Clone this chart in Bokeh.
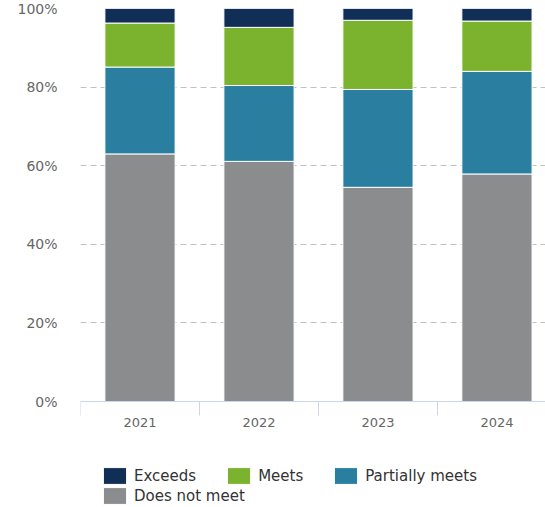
from bokeh.plotting import figure
from bokeh.models import ColumnDataSource, Legend, LegendItem, FixedTicker, Range1d
from bokeh.core.properties import value
from bokeh.embed import file_html
from bokeh.resources import INLINE

# ---- data ----
years = ["2021", "2022", "2023", "2024"]
does_not_meet = [63.0, 61.1, 54.5, 57.9]
partially_meets = [22.1, 19.3, 24.9, 26.1]
meets = [11.2, 14.8, 17.6, 12.8]
exceeds = [3.7, 4.8, 3.0, 3.2]
y_ticks = [0, 20, 40, 60, 80, 100]
y_tick_labels = ["0%", "20%", "40%", "60%", "80%", "100%"]

series_names = ["Does not meet", "Partially meets", "Meets", "Exceeds"]
series_keys = ["dnm", "pm", "m", "ex"]
colors = ["#8b8c8e", "#2a7fa1", "#7bb32e", "#112e57"]

x = list(range(len(years)))
source = ColumnDataSource(dict(x=x, year=years, dnm=does_not_meet,
                               pm=partially_meets, m=meets, ex=exceeds))

FONT = "DejaVu Sans"

# frame runs from y=8 to the bottom of the page; the region below 0% hosts
# the category axis (fixed at 0) and the legend rows
p = figure(width=545, height=507,
           x_range=Range1d(-0.5, 3.408), y_range=Range1d(-26.97, 100),
           output_backend="svg", toolbar_location=None,
           min_border_left=80, min_border_right=0,
           min_border_top=8, min_border_bottom=0)
p.outline_line_color = None
p.background_fill_color = "white"
p.border_fill_color = "white"

renderers = p.vbar_stack(series_keys, x="x", width=0.59,
                         fill_color=colors, line_color="white", line_width=1,
                         source=source)

# ---- axes ----
xa = p.xaxis[0]
xa.fixed_location = 0
xa.ticker = FixedTicker(ticks=x, minor_ticks=[i - 0.5 for i in x])
xa.major_label_overrides = {i: y for i, y in zip(x, years)}
xa.major_tick_out = 0
xa.major_tick_in = 0
xa.minor_tick_out = 14
xa.minor_tick_in = 0
xa.axis_line_color = "#ccd6eb"
xa.minor_tick_line_color = "#ccd6eb"
xa.major_label_text_font = FONT
xa.major_label_text_font_size = "13px"
xa.major_label_text_color = "#666666"
xa.major_label_standoff = 2

ya = p.yaxis[0]
ya.ticker = FixedTicker(ticks=y_ticks, minor_ticks=[])
ya.major_label_overrides = {t: l for t, l in zip(y_ticks, y_tick_labels)}
ya.axis_line_color = None
ya.major_tick_line_color = None
ya.minor_tick_line_color = None
ya.major_label_text_font = FONT
ya.major_label_text_font_size = "14px"
ya.major_label_text_color = "#666666"
ya.major_label_standoff = 17

p.xgrid.visible = False
p.ygrid.grid_line_color = "#c0c0c0"
p.ygrid.grid_line_dash = "6 4"
p.ygrid.grid_line_width = 1

# ---- legends ----
by_name = dict(zip(series_names, renderers))


def make_legend(names, loc):
    leg = Legend(items=[LegendItem(label=value(n), renderers=[by_name[n]]) for n in names],
                 orientation="horizontal", location=loc)
    leg.glyph_width = 29
    leg.glyph_height = 21
    leg.label_height = 21
    leg.label_standoff = 5
    leg.spacing = 28
    leg.padding = 0
    leg.margin = 0
    leg.label_text_font = FONT
    leg.label_text_font_size = "15px"
    leg.label_text_color = "#333333"
    leg.background_fill_alpha = 0
    leg.border_line_alpha = 0
    return leg


p.add_layout(make_legend(["Exceeds", "Meets", "Partially meets"], (20, 21)))
p.add_layout(make_legend(["Does not meet"], (20, 1)))

open("out.html", "w").write(file_html(p, INLINE))
